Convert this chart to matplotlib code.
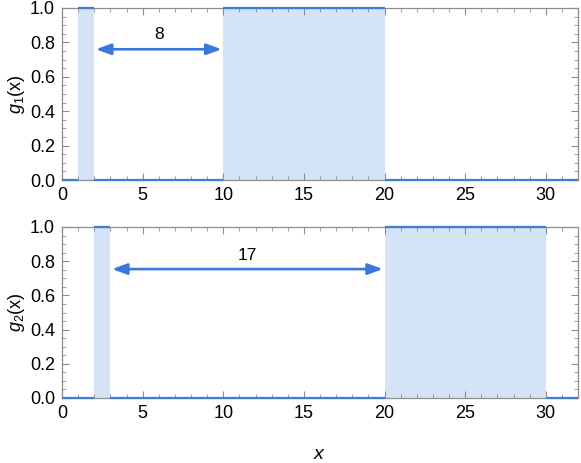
import numpy as np
import matplotlib.pyplot as plt
from matplotlib.ticker import MultipleLocator

# step functions: intervals where g = 1
g1_on = [(1, 2), (10, 20)]
g2_on = [(2, 3), (20, 30)]
ylabels = ["$g_1$(x)", "$g_2$(x)"]
gaps = [(2, 10, "8", 0.76, 0.845), (3, 20, "17", 0.754, 0.835)]
xmax = 32

line_c = "#3f7fd3"
fill_c = "#d4e4f6"
arrow_c = "#3a78dc"
frame_c = "#8c8c8c"

plt.rcParams['font.family'] = ['Liberation Sans', 'DejaVu Sans']
plt.rcParams['mathtext.fontset'] = 'custom'
plt.rcParams['mathtext.it'] = 'Liberation Sans:italic'
plt.rcParams['mathtext.rm'] = 'Liberation Sans'

fig = plt.figure(figsize=(5.81, 4.63), dpi=100)
ax1 = fig.add_axes([62 / 581, 1 - 180 / 463, 516 / 581, 172 / 463])
ax2 = fig.add_axes([62 / 581, 1 - 398 / 463, 516 / 581, 171 / 463])

for ax, on, lab, gap in zip([ax1, ax2], [g1_on, g2_on], ylabels, gaps):
    edges = [0]
    for a, b in on:
        edges += [a, b]
    edges.append(xmax)
    # zero segments
    for i in range(0, len(edges), 2):
        ax.plot([edges[i], edges[i + 1]], [0, 0], color=line_c, lw=1.6,
                solid_capstyle='butt', clip_on=False, zorder=3)
    for a, b in on:
        ax.fill_between([a, b], 0, 1, color=fill_c, lw=0, zorder=1)
        ax.plot([a, b], [1, 1], color=line_c, lw=1.6, solid_capstyle='butt',
                clip_on=False, zorder=3)
    x0, x1, txt, ya, yt = gap
    ax.annotate("", xy=(x0 + 0.1, ya), xytext=(x1 - 0.1, ya),
                arrowprops=dict(arrowstyle="<|-|>,head_length=0.6,head_width=0.22",
                                color=arrow_c, lw=1.9,
                                mutation_scale=15, shrinkA=0, shrinkB=0))
    ax.text((x0 + x1) / 2, yt, txt, ha='center', va='center', fontsize=12.5)

    ax.set_xlim(0, xmax)
    ax.set_ylim(0, 1)
    ax.xaxis.set_major_locator(MultipleLocator(5))
    ax.xaxis.set_minor_locator(MultipleLocator(1))
    ax.yaxis.set_major_locator(MultipleLocator(0.2))
    ax.yaxis.set_minor_locator(MultipleLocator(0.05))
    ax.yaxis.set_major_formatter(plt.FormatStrFormatter('%.1f'))
    ax.tick_params(which='both', direction='in', top=True, right=True,
                   color=frame_c, labelsize=13)
    ax.tick_params(which='major', length=5, width=0.8, pad=5)
    ax.tick_params(which='minor', length=3, width=0.6)
    for s in ax.spines.values():
        s.set_color(frame_c)
        s.set_linewidth(0.9)
    ax.set_ylabel(lab, fontsize=13, labelpad=2)

ax2.set_xlabel("$x$", fontsize=14, labelpad=17)

fig.savefig("out.png", dpi=100)
